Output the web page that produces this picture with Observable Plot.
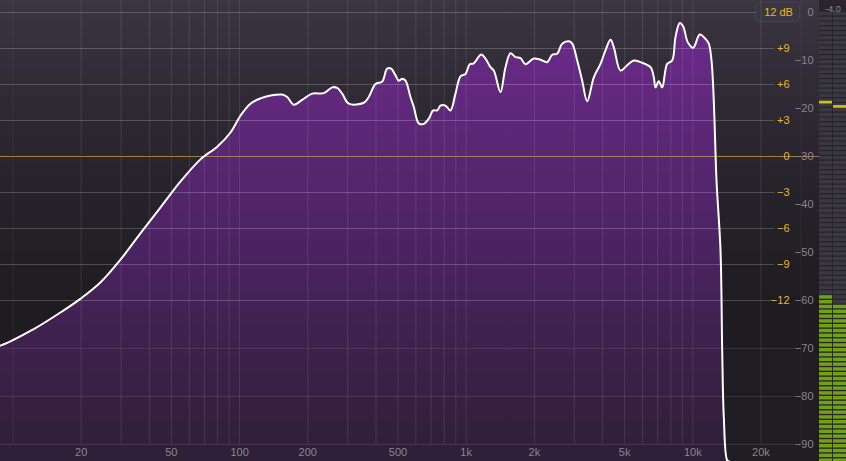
<!DOCTYPE html>
<html>
<head>
<meta charset="utf-8">
<script src="https://cdn.jsdelivr.net/npm/d3@7"></script>
<script src="https://cdn.jsdelivr.net/npm/@observablehq/plot@0.6"></script>
<style>
  html, body { margin: 0; padding: 0; background: #1e1c20; }
  #wrap { position: relative; width: 846px; height: 461px; overflow: hidden;
    background: linear-gradient(to bottom, #3c3542 0%, #302b35 18%, #27232b 40%, #1e1c20 66%, #201e22 100%); }
  #box { position: absolute; left: 755px; top: 2px; width: 45px; height: 20px; border-radius: 4px;
    background: #3a3740; border: 1px solid #46434c; box-sizing: border-box; }
  #main { position: absolute; left: 0; top: 0; }
  #meter { position: absolute; left: 819px; top: 0; }
</style>
</head>
<body>
<svg width="0" height="0" style="position:absolute">
  <defs>
    <linearGradient id="purple" gradientUnits="userSpaceOnUse" x1="0" y1="0" x2="0" y2="461">
      <stop offset="0" stop-color="#6f2b90"/>
      <stop offset="0.25" stop-color="#5e2879"/>
      <stop offset="0.55" stop-color="#4a2360"/>
      <stop offset="0.8" stop-color="#3a2147"/>
      <stop offset="1" stop-color="#2e1f37"/>
    </linearGradient>
  </defs>
</svg>
<div id="wrap">
  <div id="box"></div>
  <div id="main"></div>
  <div id="meter"></div>
</div>
<script>
// Spectrum curve: frequency (Hz) and level (dB)
const freqs = [8, 8.8, 12.3, 16.2, 19.9, 24.3, 29.8, 36.5, 44.8, 54.9, 67.2, 79.9, 91.2, 100.9, 111.7, 123.7, 136.9, 154.2, 162.2, 173.5, 188.9, 209.1, 235.3, 256.4, 269.7, 283.7, 303.4, 353.3, 371.7, 397.9, 425.8, 448, 466.7, 487.6, 504.2, 522, 539.8, 567.8, 587.4, 618, 650, 684, 715, 745, 770, 810, 852, 897, 944, 993, 1037, 1080, 1165, 1217, 1280, 1324, 1417, 1491, 1569, 1651, 1737, 1827, 1988, 2128, 2278, 2396, 2521, 2653, 2838, 2937, 3090, 3251, 3420, 3658, 3915, 4118, 4333, 4481, 4797, 5135, 5492, 5879, 6508, 6731, 6848, 7080, 7328, 7709, 8112, 8389, 8763, 9072, 9506, 10042, 10740, 11380, 11768, 12096, 12306, 12470, 12726, 13254, 13484, 13706, 14188, 14500];
const levels = [-69.6, -69.4, -66.0, -62.5, -59.6, -56.25, -51.5, -46.0, -40.6, -35.2, -30.6, -27.9, -25.0, -21.5, -19.0, -17.9, -17.3, -17.1, -17.6, -19.2, -18.2, -16.9, -16.8, -15.6, -15.7, -16.9, -19.0, -18.8, -17.6, -14.9, -14.4, -11.7, -11.7, -13.1, -14.2, -13.8, -14.2, -17.6, -19.7, -23.1, -23.2, -22.1, -20.4, -20.4, -19.4, -19.4, -20.4, -16.9, -13.3, -12.8, -10.8, -10.6, -8.75, -9.6, -11.4, -12.1, -16.6, -11.4, -8.5, -9.3, -9.5, -10.8, -9.6, -9.85, -10.35, -8.8, -8.6, -6.5, -6.0, -6.5, -10.0, -14.2, -18.5, -13.5, -10.7, -7.9, -5.7, -7.2, -12.1, -11.0, -10.0, -10.35, -11.4, -13.5, -15.6, -14.3, -15.6, -10.7, -10.0, -5.1, -2.2, -2.9, -6.2, -7.35, -4.6, -5.5, -6.5, -10.0, -15.6, -22.5, -35.0, -49.6, -70.4, -84.3, -93.3, -100];

// Axis ticks
const gridFreqs = [10,20,30,40,50,60,70,80,90,100,200,300,400,500,600,700,800,900,1000,2000,3000,4000,5000,6000,7000,8000,9000,10000,20000];
const freqTicks = [20, 50, 100, 200, 500, 1000, 2000, 5000, 10000, 20000];
const freqTickLabels = ["20", "50", "100", "200", "500", "1k", "2k", "5k", "10k", "20k"];
const eqTicks = [9, 6, 3, 0, -3, -6, -9, -12];
const eqTickLabels = ["+9", "+6", "+3", "0", "\u22123", "\u22126", "\u22129", "\u221212"];
const dbTicks = [0, -10, -20, -30, -40, -50, -60, -70, -80, -90];
const dbTickLabels = ["0", "\u221210", "\u221220", "\u221230", "\u221240", "\u221250", "\u221260", "\u221270", "\u221280", "\u221290"];
const eqRange = "12 dB";

// Meter values (dB)
const meterChannels = ["L", "R"];
const meterLevels = [-59.0, -60.7];
const meterPeaks = [-18.5, -19.4];
const meterReadout = "-4.0";

// EQ gain -> analyzer dB (12 dB EQ range spans 30 dB of analyzer scale, 0 dB EQ at -30)
const eqToDb = g => -30 + 2.5 * g;

const data = freqs.map((f, i) => ({f, db: levels[i]}));
const YMIN = -93.54, YMAX = 2.5;
const FMIN = 8.81, FMAX = 36240;

const yellow = "#e9b91e";
const gray = "#8a8690";

const main = Plot.plot({
  width: 819, height: 461, margin: 0,
  style: {background: "transparent", fontFamily: "'Liberation Sans', Arial, sans-serif", fontSize: "11px", overflow: "visible"},
  x: {type: "log", domain: [FMIN, FMAX], axis: null},
  y: {domain: [YMIN, YMAX], axis: null, clamp: true},
  marks: [
    Plot.areaY(data, {x: "f", y1: -100, y2: "db", curve: "catmull-rom", fill: "url(#purple)"}),
    Plot.ruleX(gridFreqs, {y1: -90, y2: YMAX, stroke: "#ffffff", strokeOpacity: f => (f === 10 ? 0.06 : 0.1), strokeWidth: 1}),
    Plot.ruleX([30000], {y1: -90, y2: YMAX, stroke: "#ffffff", strokeOpacity: 0.05}),
    Plot.ruleY(eqTicks.filter(g => g !== 0), {y: g => eqToDb(g), x1: FMIN, x2: 23000, stroke: "#ffffff", strokeOpacity: 0.2}),
    Plot.ruleY([12], {y: g => eqToDb(g), x1: FMIN, x2: 19000, stroke: "#ffffff", strokeOpacity: 0.2}),
    Plot.ruleY([-70, -80, -90], {x1: FMIN, x2: 28400, stroke: "#ffffff", strokeOpacity: 0.1}),
    Plot.ruleY([0], {y: g => eqToDb(g), x1: FMIN, x2: FMAX, stroke: "#c9a24a", strokeOpacity: 0.7}),
    Plot.line(data, {x: "f", y: "db", curve: "catmull-rom", stroke: "#ffffff", strokeWidth: 2}),
    Plot.text(eqTicks, {x: 26720, y: g => eqToDb(g), text: (g, i) => eqTickLabels[i], textAnchor: "end", fill: yellow}),
    Plot.text([12], {x: 23900, y: g => eqToDb(g), text: () => eqRange, textAnchor: "middle", fill: yellow}),
    Plot.text(dbTicks, {x: 34100, y: d => d, text: (d, i) => dbTickLabels[i], textAnchor: "end", fill: gray}),
    Plot.text(freqTicks, {x: f => f, y: -91.67, text: (f, i) => freqTickLabels[i], textAnchor: "middle", fill: gray})
  ]
});
document.getElementById("main").appendChild(main);

// Meter segments (1 dB each)
const segs = [];
meterChannels.forEach((ch, i) => {
  for (let d = 0; d >= -93; d--) segs.push({ch, top: d, bot: d - 0.72, lit: d <= meterLevels[i]});
});
const peaks = meterChannels.map((ch, i) => ({ch, top: meterPeaks[i], bot: meterPeaks[i] - 0.55}));

const meter = Plot.plot({
  width: 27, height: 461, margin: 0,
  style: {background: "#28262c", fontFamily: "'Liberation Sans', Arial, sans-serif", fontSize: "9px", overflow: "visible"},
  x: {type: "band", domain: meterChannels, range: [0, 27], paddingInner: 0.08, paddingOuter: 0, axis: null},
  y: {domain: [YMIN, YMAX], axis: null},
  marks: [
    Plot.rectY([0], {x1: 0, x2: 27, y1: 0.2, y2: YMAX, fill: "#39363f"}),
    Plot.barY(segs, {x: "ch", y1: "bot", y2: "top", fill: d => (d.lit ? "#72a018" : "#3a3840"), inset: 0}),
    Plot.barY(peaks, {x: "ch", y1: "bot", y2: "top", fill: "#cfc21c", inset: 0}),
    Plot.text([meterReadout], {frameAnchor: "top", dy: 5, text: d => d, fill: "#8d8a93"})
  ]
});
document.getElementById("meter").appendChild(meter);
</script>
</body>
</html>
